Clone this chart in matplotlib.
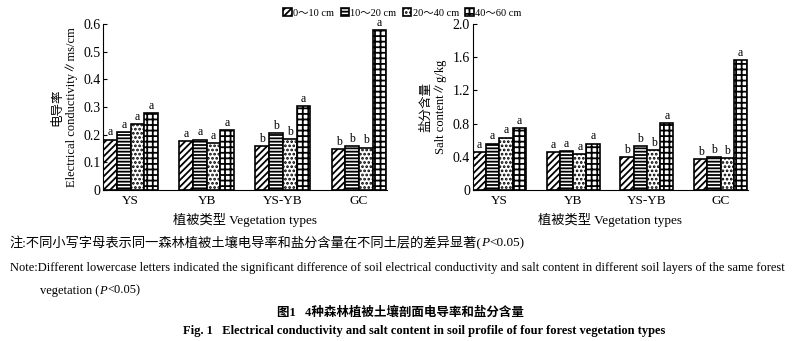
import numpy as np
import matplotlib
matplotlib.use("Agg")
import matplotlib.pyplot as plt

plt.rcParams['font.family'] = ['Liberation Serif', 'Noto Sans CJK SC', 'DejaVu Sans']
plt.rcParams['hatch.linewidth'] = 1.3

groups = ['YS', 'YB', 'YS-YB', 'GC']
layers = ['0～10 cm', '10～20 cm', '20～40 cm', '40～60 cm']
hatches = ['/////', '-----', '....', '+++']

ec = [[0.182, 0.210, 0.238, 0.279],
      [0.176, 0.182, 0.170, 0.217],
      [0.158, 0.204, 0.185, 0.303],
      [0.148, 0.158, 0.153, 0.579]]
salt = [[0.457, 0.558, 0.630, 0.747],
        [0.453, 0.465, 0.432, 0.558],
        [0.400, 0.533, 0.480, 0.804],
        [0.368, 0.392, 0.380, 1.564]]
letters = [['a', 'a', 'a', 'a'],
           ['a', 'a', 'a', 'a'],
           ['b', 'b', 'b', 'a'],
           ['b', 'b', 'b', 'a']]

fig = plt.figure(figsize=(8, 3.41), dpi=100)
ax1 = fig.add_axes([0.129, 0.443, 0.355, 0.487])
ax2 = fig.add_axes([0.591, 0.443, 0.344, 0.487])

x = np.arange(len(groups))
w = 0.18

def draw(ax, data, ymax, ticks, ylab, off):
    data = np.array(data)
    bars = []
    for j in range(4):
        b = ax.bar(x + (j - 1.5) * w, data[:, j], w, facecolor='white',
                   edgecolor='black', linewidth=1.2, hatch=hatches[j], label=layers[j])
        bars.append(b)
        for i in range(4):
            ax.text(x[i] + (j - 1.5) * w, data[i, j] + off, letters[i][j],
                    ha='center', va='bottom', fontsize=8.5)
    ax.set_xlim(-0.36, 3.37)
    ax.set_ylim(0, ymax)
    ax.set_yticks(ticks)
    ax.set_yticklabels(['0'] + ['%.1f' % t for t in ticks[1:]], fontsize=10)
    ax.set_xticks(x)
    ax.set_xticklabels(groups, fontsize=9.5)
    ax.spines['top'].set_visible(False)
    ax.spines['right'].set_visible(False)
    ax.tick_params(axis='y', direction='in', length=3, pad=2)
    ax.tick_params(axis='x', length=0, pad=4)
    ax.set_xlabel('植被类型 Vegetation types', fontsize=9.5, labelpad=4)
    ax.set_ylabel(ylab, fontsize=9, multialignment='center', labelpad=4)
    return bars

bars = draw(ax1, ec, 0.6, [0, 0.1, 0.2, 0.3, 0.4, 0.5, 0.6],
            '电导率\nElectrical conductivity∥ms/cm', 0.004)
draw(ax2, salt, 2.0, [0, 0.4, 0.8, 1.2, 1.6, 2.0],
     '盐分含量\nSalt content∥g/kg', 0.014)

fig.legend(handles=bars, labels=layers, loc='center', bbox_to_anchor=(0.503, 0.962),
           ncol=4, frameon=False, fontsize=7.5, handlelength=0.8, handleheight=0.8,
           handletextpad=0.15, columnspacing=0.6, borderpad=0.1)

fs = 9
renderer = fig.canvas.get_renderer()

def text_with_p(xpos, ypos, before, after, size):
    # plain text, then italic P, then the rest
    t = fig.text(xpos, ypos, before, fontsize=size, va='center')
    bb = t.get_window_extent(renderer)
    t2 = fig.text(bb.x1 / fig.bbox.width, ypos, 'P', fontsize=size, va='center', style='italic')
    bb2 = t2.get_window_extent(renderer)
    fig.text(bb2.x1 / fig.bbox.width, ypos, after, fontsize=size, va='center')

text_with_p(0.012, 0.287, '注:不同小写字母表示同一森林植被土壤电导率和盐分含量在不同土层的差异显著(', '<0.05)', 9.5)
fig.text(0.012, 0.213, 'Note:Different lowercase letters indicated the significant difference of soil '
         'electrical conductivity and salt content in different soil layers of the same forest',
         fontsize=fs, va='center')
text_with_p(0.05, 0.148, 'vegetation (', '<0.05)', fs)
fig.text(0.5, 0.085, '图1   4种森林植被土壤剖面电导率和盐分含量', fontsize=9,
         ha='center', va='center', fontweight='bold')
fig.text(0.53, 0.03, 'Fig. 1   Electrical conductivity and salt content in soil profile of four forest vegetation types',
         fontsize=9, ha='center', va='center', fontweight='bold')

fig.savefig('out.png', dpi=100)
